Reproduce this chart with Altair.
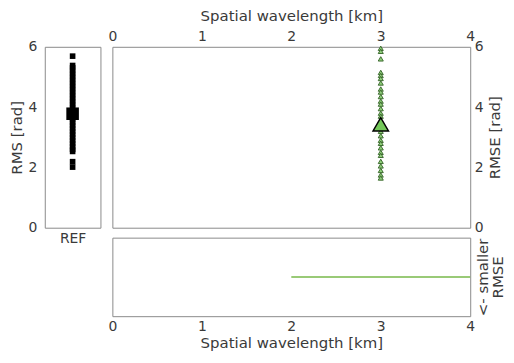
import altair as alt
import pandas as pd

# ---- data ----
ref_category = ["REF"]
ref_rms = [5.69, 5.38, 5.3, 5.2, 5.1, 5.0, 4.9, 4.8, 4.7, 4.6, 4.5, 4.4, 4.3,
           4.2, 4.1, 4.0, 3.9, 3.8, 3.7, 3.6, 3.5, 3.4, 3.3, 3.2, 3.1, 3.0,
           2.9, 2.8, 2.7, 2.6, 2.53, 2.19, 2.01]
ref_mean = [3.78]

wavelength = [3]
rmse_values = [5.95, 5.85, 5.6, 5.15, 5.05, 4.95, 4.8, 4.6, 4.5, 4.35, 4.2,
               4.1, 3.95, 3.8, 3.7, 3.55, 3.3, 3.2, 3.05, 2.9, 2.8, 2.65,
               2.5, 2.4, 2.2, 2.05, 1.9, 1.75, 1.65]
rmse_mean = [3.43]

best_x = [2, 4]
best_y = [0.5, 0.5]

x_ticks = [0, 1, 2, 3, 4]
y_ticks = [0, 2, 4, 6]

# ---- styling ----
FONT = "DejaVu Sans"
FRAME = "#8a8a8a"
TXT = "#3a3a3a"
GREEN_FILL = "#8fd07a"
GREEN_EDGE = "#3d6b30"
LINE_GREEN = "#77b94a"

ref_df = pd.DataFrame({"cat": ref_category * len(ref_rms), "rms": ref_rms})
ref_mean_df = pd.DataFrame({"cat": ref_category, "rms": ref_mean})
tri_df = pd.DataFrame({"wl": wavelength * len(rmse_values), "rmse": rmse_values})
tri_mean_df = pd.DataFrame({"wl": wavelength, "rmse": rmse_mean})
line_df = pd.DataFrame({"x": best_x, "y": best_y})

# ---- left panel (REF) ----
lx = alt.X("cat:N", axis=alt.Axis(title=None, labelAngle=0, ticks=False,
                                  domain=False, labelPadding=4))
ly = alt.Y("rms:Q", scale=alt.Scale(domain=[0, 6]),
           axis=alt.Axis(values=y_ticks, title="RMS [rad]", grid=False,
                         domain=False, ticks=False, labelPadding=8,
                         titlePadding=4))
left_pts = alt.Chart(ref_df).mark_square(color="black", size=32, opacity=1).encode(x=lx, y=ly)
left_mean = alt.Chart(ref_mean_df).mark_square(color="black", size=160, opacity=1).encode(
    x="cat:N", y="rms:Q")
left = alt.layer(left_pts, left_mean).properties(width=56, height=182)

# ---- main panel ----
mx = alt.X("wl:Q", scale=alt.Scale(domain=[0, 4]),
           axis=alt.Axis(orient="top", values=x_ticks, format="d",
                         title="Spatial wavelength [km]", grid=False,
                         domain=False, ticks=False, labelFlush=False,
                         labelPadding=3, titlePadding=6))
my = alt.Y("rmse:Q", scale=alt.Scale(domain=[0, 6]),
           axis=alt.Axis(orient="right", values=y_ticks, title="RMSE [rad]",
                         titleAngle=270, titleBaseline="top", grid=False,
                         domain=False, ticks=False, labelPadding=4,
                         titlePadding=5))
main_pts = alt.Chart(tri_df).mark_point(
    shape="triangle-up", filled=True, fill=GREEN_FILL, stroke=GREEN_EDGE,
    strokeWidth=1, size=26, opacity=1).encode(x=mx, y=my)
main_mean = alt.Chart(tri_mean_df).mark_point(
    shape="triangle-up", filled=True, fill="#74c85a", stroke="black",
    strokeWidth=1.5, size=240, opacity=1).encode(x="wl:Q", y="rmse:Q")
main = alt.layer(main_pts, main_mean).properties(width=360, height=182)

# ---- bottom panel ----
bottom = alt.Chart(line_df).mark_line(color=LINE_GREEN, strokeWidth=1.5).encode(
    x=alt.X("x:Q", scale=alt.Scale(domain=[0, 4]),
            axis=alt.Axis(values=x_ticks, format="d",
                          title="Spatial wavelength [km]", grid=False,
                          domain=False, ticks=False, labelFlush=False,
                          labelPadding=3, titlePadding=3)),
    y=alt.Y("y:Q", scale=alt.Scale(domain=[0, 1]),
            axis=alt.Axis(orient="right", labels=False, ticks=False,
                          domain=False, grid=False,
                          title=["<- smaller", "RMSE"], titleAngle=270,
                          titleLineHeight=15, titlePadding=5)),
).properties(width=360, height=79)

right_col = alt.vconcat(main, bottom, spacing=10, bounds="flush")
chart = alt.hconcat(left, right_col, spacing=12, bounds="flush").properties(
    padding={"left": 0, "top": -1, "right": 0, "bottom": 0}
).configure_view(stroke=FRAME, strokeWidth=1).configure_axis(
    labelFont=FONT, titleFont=FONT, labelFontSize=14, titleFontSize=15,
    labelColor=TXT, titleColor=TXT, titleFontWeight="normal"
)

chart.save("out.html", embed_options={"renderer": "svg", "actions": False})
